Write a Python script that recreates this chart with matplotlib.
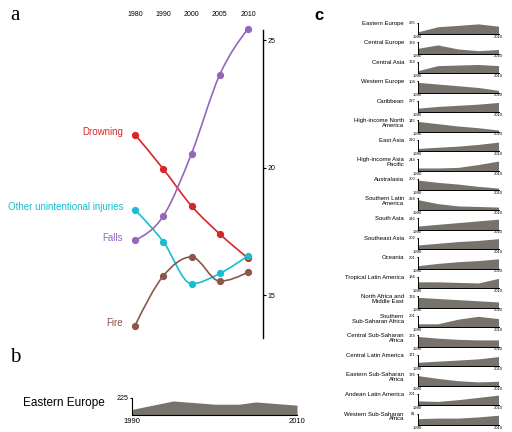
import numpy as np
import matplotlib
matplotlib.use('Agg')
import matplotlib.pyplot as plt
from matplotlib.path import Path
from matplotlib.patches import PathPatch

plt.rcParams['font.family'] = ['Liberation Sans', 'DejaVu Sans']

W, H = 512, 432

# ---------------- Panel a data ----------------
years_a = ['1980', '1990', '2000', '2005', '2010']
series_names = ['Drowning', 'Other unintentional injuries', 'Falls', 'Fire']
drowning = [21.3, 19.95, 18.5, 17.4, 16.45]
other_inj = [18.35, 17.1, 15.45, 15.85, 16.55]
falls = [17.15, 18.1, 20.55, 23.65, 25.45]
fire = [13.8, 15.75, 16.5, 15.55, 15.9]
series_vals = [drowning, other_inj, falls, fire]
series_colors = ['#d62728', '#17becf', '#9467bd', '#8c564b']
a_ticks = [15, 20, 25]

# ---------------- Panel b data ----------------
b_region = 'Eastern Europe'
b_years = [1990, 1995, 2000, 2003, 2005, 2010]
b_vals = [74, 186, 143, 143, 173, 130]
b_max = 225

# ---------------- Panel c data ----------------
c_years = [1990, 1995, 2000, 2005, 2010]
c_regions = ['Eastern Europe', 'Central Europe', 'Central Asia', 'Western Europe',
             'Caribbean', 'High-income North\nAmerica', 'East Asia',
             'High-income Asia\nPacific', 'Australasia', 'Southern Latin\nAmerica',
             'South Asia', 'Southeast Asia', 'Oceania', 'Tropical Latin America',
             'North Africa and\nMiddle East', 'Southern\nSub-Saharan Africa',
             'Central Sub-Saharan\nAfrica', 'Central Latin America',
             'Eastern Sub-Saharan\nAfrica', 'Andean Latin America',
             'Western Sub-Saharan\nAfrica']
c_max = ['225', '174', '174', '104', '227', '145', '220', '244', '200', '224',
         '216', '202', '201', '184', '174', '201', '174', '171', '176', '201', '81']
c_rel = [
    [0.18, 0.63, 0.75, 0.88, 0.68],
    [0.45, 0.75, 0.40, 0.25, 0.35],
    [0.20, 0.65, 0.70, 0.75, 0.65],
    [0.90, 0.75, 0.60, 0.45, 0.20],
    [0.35, 0.50, 0.60, 0.70, 0.85],
    [0.90, 0.70, 0.50, 0.35, 0.15],
    [0.25, 0.35, 0.45, 0.60, 0.80],
    [0.25, 0.25, 0.30, 0.55, 0.85],
    [0.90, 0.70, 0.55, 0.35, 0.20],
    [0.90, 0.55, 0.35, 0.30, 0.25],
    [0.30, 0.45, 0.60, 0.75, 0.90],
    [0.35, 0.50, 0.65, 0.75, 0.90],
    [0.25, 0.45, 0.60, 0.70, 0.85],
    [0.55, 0.55, 0.50, 0.45, 0.85],
    [0.90, 0.80, 0.70, 0.60, 0.50],
    [0.30, 0.30, 0.70, 0.95, 0.75],
    [0.90, 0.75, 0.65, 0.60, 0.60],
    [0.35, 0.45, 0.55, 0.65, 0.85],
    [0.90, 0.65, 0.45, 0.35, 0.40],
    [0.40, 0.35, 0.50, 0.70, 0.90],
    [0.55, 0.60, 0.60, 0.70, 0.85],
]

AREA = '#77736c'

fig = plt.figure(figsize=(W / 100, H / 100), dpi=100)


def px_axes(x0, y0, x1, y1):
    """axes from pixel box (top-left origin)"""
    return fig.add_axes([x0 / W, 1 - y1 / H, (x1 - x0) / W, (y1 - y0) / H])


def monotone_path(xs, ys):
    xs = np.asarray(xs, float)
    ys = np.asarray(ys, float)
    n = len(xs)
    h = np.diff(xs)
    s = np.diff(ys) / h
    t = np.zeros(n)
    for k in range(1, n - 1):
        s0, s1 = s[k - 1], s[k]
        p = (s0 * h[k] + s1 * h[k - 1]) / (h[k - 1] + h[k])
        t[k] = (np.sign(s0) + np.sign(s1)) * min(abs(s0), abs(s1), 0.5 * abs(p))
    t[0] = (3 * s[0] - t[1]) / 2
    t[-1] = (3 * s[-1] - t[-2]) / 2
    verts = [(xs[0], ys[0])]
    codes = [Path.MOVETO]
    for k in range(n - 1):
        dx = h[k] / 3
        verts += [(xs[k] + dx, ys[k] + dx * t[k]),
                  (xs[k + 1] - dx, ys[k + 1] - dx * t[k + 1]),
                  (xs[k + 1], ys[k + 1])]
        codes += [Path.CURVE4] * 3
    return Path(verts, codes)


# ---------------- Panel a ----------------
axa = px_axes(120, 30, 263, 338)
xi = np.arange(len(years_a))
for name, vals, col in zip(series_names, series_vals, series_colors):
    axa.add_patch(PathPatch(monotone_path(xi, vals), fill=False, edgecolor=col, lw=1.2,
                            clip_on=False))
    axa.plot(xi, vals, 'o', color=col, ms=4.2, clip_on=False)
    axa.text(-0.42, vals[0] + 0.1, name, color=col, ha='right', va='center', fontsize=7)
axa.set_xlim(-0.53, 4.53)
axa.set_ylim(13.32, 25.40)
for sp in ['left', 'bottom', 'top']:
    axa.spines[sp].set_visible(False)
axa.spines['right'].set_linewidth(1.0)
axa.yaxis.tick_right()
axa.set_yticks(a_ticks)
axa.set_yticklabels([str(v) for v in a_ticks], fontsize=5)
axa.tick_params(axis='y', length=2, width=0.8, pad=1)
axa.xaxis.tick_top()
axa.set_xticks(xi)
axa.set_xticklabels(years_a, fontsize=5)
axa.tick_params(axis='x', length=0, pad=9)

# ---------------- Panel b ----------------
axb = px_axes(132, 398, 297, 415)
axb.fill_between(b_years, b_vals, 0, color=AREA, lw=0)
axb.set_xlim(b_years[0], b_years[-1])
axb.set_ylim(0, b_max)
for sp in ['top', 'right']:
    axb.spines[sp].set_visible(False)
axb.spines['left'].set_linewidth(0.8)
axb.spines['bottom'].set_linewidth(0.8)
axb.set_yticks([b_max])
axb.set_yticklabels([str(b_max)], fontsize=5)
axb.set_xticks([b_years[0], b_years[-1]])
axb.set_xticklabels([str(b_years[0]), str(b_years[-1])], fontsize=5.5)
axb.tick_params(length=0, pad=2)
axb.tick_params(axis='y', length=1.5, pad=1)
axb.text((105 - 132) / 165, 0.7, b_region, transform=axb.transAxes, ha='right',
         va='center', fontsize=8.5)

# ---------------- Panel c ----------------
for i, (reg, mx, rel) in enumerate(zip(c_regions, c_max, c_rel)):
    bottom = 34 + 19.55 * i
    top = bottom - 11.5
    ax = px_axes(417.5, top, 498.5, bottom)
    ax.fill_between(c_years, rel, 0, color=AREA, lw=0)
    ax.set_xlim(c_years[0], c_years[-1])
    ax.set_ylim(0, 1)
    for sp in ['top', 'right']:
        ax.spines[sp].set_visible(False)
    ax.spines['left'].set_linewidth(0.7)
    ax.spines['bottom'].set_linewidth(0.7)
    ax.set_yticks([1])
    ax.set_yticklabels([mx], fontsize=3)
    ax.set_xticks([c_years[0], c_years[-1]])
    ax.set_xticklabels([str(c_years[0]), str(c_years[-1])], fontsize=3)
    ax.tick_params(length=0, pad=0.5)
    ax.tick_params(axis='y', length=1, pad=0.5)
    fig.text(404 / W, 1 - (top - 2) / H, reg, ha='right', va='top', fontsize=4.3,
             multialignment='right', linespacing=1.0)

# ---------------- Panel letters ----------------
fig.text(10 / W, 1 - 15 / H, 'a', fontsize=15, family='Liberation Serif', va='center')
fig.text(10 / W, 1 - 358 / H, 'b', fontsize=15, family='Liberation Serif', va='center')
fig.text(314 / W, 1 - 15 / H, 'c', fontsize=12, fontweight='bold', va='center')

fig.savefig('out.png', dpi=100)
